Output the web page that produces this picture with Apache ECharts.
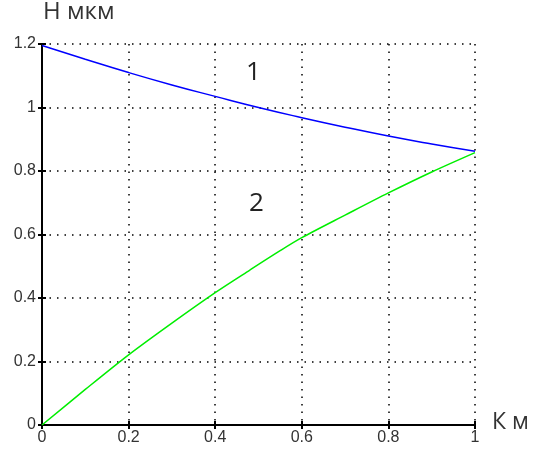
<!DOCTYPE html>
<html>
<head>
<meta charset="utf-8">
<script src="https://cdn.jsdelivr.net/npm/echarts@6/dist/echarts.min.js"></script>
<style>
  html, body { margin: 0; padding: 0; background: #fff; }
  #chart { width: 535px; height: 450px; }
</style>
</head>
<body>
<div id="chart"></div>
<script>
// значения
var xVals1 = [0, 0.1, 0.2, 0.3, 0.4, 0.5, 0.6, 0.7, 0.8, 0.9, 1];
var curve1 = [1.195, 1.152, 1.11, 1.071, 1.035, 1.0, 0.968, 0.938, 0.91, 0.885, 0.862];
var xVals2 = [0, 0.1, 0.2, 0.3, 0.4, 0.48, 0.55, 0.6, 0.7, 0.8, 0.9, 1];
var curve2 = [0, 0.112, 0.221, 0.321, 0.417, 0.488, 0.549, 0.59, 0.661, 0.731, 0.797, 0.858];
var xTicks = [0, 0.2, 0.4, 0.6, 0.8, 1];
var yTicks = [0, 0.2, 0.4, 0.6, 0.8, 1, 1.2];

function pairs(xs, ys){
	return xs.map(function(x, i){ return [x, ys[i]]; });
}

var chart = echarts.init(document.getElementById('chart'));

var dotted = { color: '#000', width: 1.5, type: [1.5, 6] };
var axisBlack = { lineStyle: { color: '#000', width: 2 } };
var tickIn = { inside: true, length: 4, lineStyle: { color: '#000', width: 2 } };
var labelStyle = { color: '#333', fontSize: 16, fontFamily: 'Liberation Sans, Arial, sans-serif' };

chart.setOption({
	animation: false,
	grid: { left: 42, right: 60, top: 44, bottom: 25 },
	xAxis: [{
		type: 'value', min: 0, max: 1, interval: 0.2,
		axisLine: axisBlack,
		axisTick: tickIn,
		axisLabel: Object.assign({ margin: 5, formatter: function(v){ return xTicks.indexOf(+v.toFixed(1)) >= 0 ? String(+v.toFixed(1)) : ''; } }, labelStyle),
		splitLine: { show: true, lineStyle: dotted }
	}, {
		type: 'value', min: 0, max: 1, interval: 0.2, position: 'top',
		axisLine: axisBlack,
		axisTick: tickIn,
		axisLabel: { show: false },
		splitLine: { show: false }
	}],
	yAxis: [{
		type: 'value', min: 0, max: 1.2, interval: 0.2,
		axisLine: axisBlack,
		axisTick: tickIn,
		axisLabel: Object.assign({ margin: 6, formatter: function(v){ return yTicks.indexOf(+v.toFixed(1)) >= 0 ? String(+v.toFixed(1)) : ''; } }, labelStyle),
		splitLine: { show: true, lineStyle: dotted }
	}, {
		type: 'value', min: 0, max: 1.2, interval: 0.2, position: 'right',
		axisLine: axisBlack,
		axisTick: tickIn,
		axisLabel: { show: false },
		splitLine: { show: false }
	}],
	graphic: [
		{ type: 'text', left: 43, top: 0, style: { text: 'Н мкм', fontSize: 24, fill: '#333', fontFamily: 'Open Sans, sans-serif' } },
		{ type: 'text', left: 492, top: 411, style: { text: 'К м', fontSize: 23, fill: '#333', fontFamily: 'Open Sans, sans-serif' } },
		{ type: 'text', left: 246, top: 60, style: { text: '1', fontSize: 26, fill: '#222', fontFamily: 'Open Sans, sans-serif' } },
		{ type: 'text', left: 249, top: 191, style: { text: '2', fontSize: 26, fill: '#222', fontFamily: 'Open Sans, sans-serif' } }
	],
	series: [{
		name: '1', type: 'line', showSymbol: false, smooth: true,
		lineStyle: { color: '#0000ff', width: 1.5 },
		data: pairs(xVals1, curve1)
	}, {
		name: '2', type: 'line', showSymbol: false, smooth: 0.3,
		lineStyle: { color: '#00ee00', width: 1.5 },
		data: pairs(xVals2, curve2)
	}]
});
</script>
</body>
</html>
